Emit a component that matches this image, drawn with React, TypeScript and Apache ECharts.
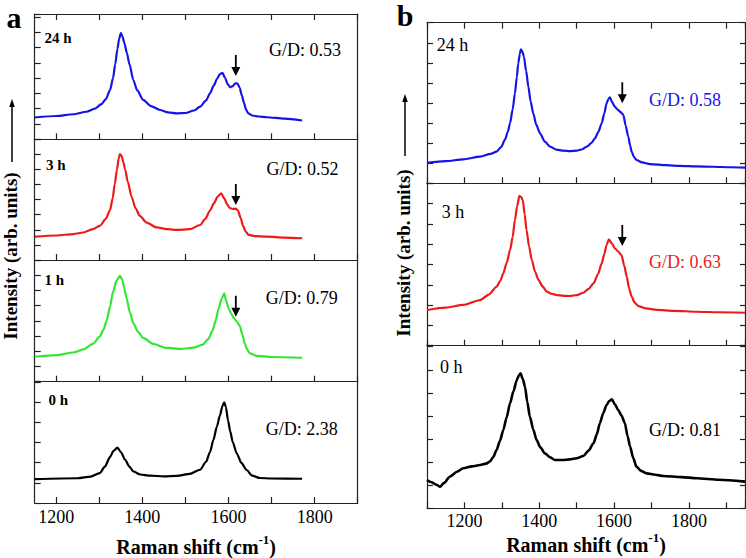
import React, { useEffect, useRef } from "react";
import * as echarts from "echarts";

// ---------- data ----------
const ticksA = [1200, 1300, 1400, 1500, 1600, 1700, 1800, 1900];
const tickLabels = [1200, 1400, 1600, 1800];

const timesA = ["24 h", "3 h", "1 h", "0 h"];
const ratiosA = ["0.53", "0.52", "0.79", "2.38"];
const timesB = ["24 h", "3 h", "0 h"];
const ratiosB = ["0.58", "0.63", "0.81"];

// panel a spectra: [Raman shift, intensity (arb.)]
const a24h = [[1150,17.4],[1200,18.6],[1240,20],[1270,22],[1290,24.5],[1305,28],[1315,32],[1325,39.3],[1332,49],[1337,60],[1342,72],[1346,80],[1350,84.8],[1354,82],[1358,77],[1364,69],[1370,60],[1379,47.3],[1388,39],[1402,31.4],[1420,26.5],[1441,23.4],[1460,21.5],[1480,20.7],[1500,21],[1520,23],[1534,26],[1548,31],[1557,36.7],[1566,43],[1573,48],[1580,52],[1586,53],[1592,49],[1598,44],[1604,41.5],[1610,42.5],[1616,44.7],[1621,44.5],[1626,41],[1631,35],[1636,29],[1641,23.5],[1646,20.7],[1655,19],[1670,18.2],[1689,17.6],[1730,16.5],[1771,15]];
const a3h = [[1150,19.3],[1200,20.3],[1240,21.5],[1263,22.8],[1285,25.5],[1302,28.5],[1315,34],[1325,41.4],[1331,51],[1336,63],[1341,75],[1345,84],[1348,87.8],[1352,86],[1356,81],[1360,75],[1366,65],[1375,52.4],[1384,43],[1394,36.5],[1410,31],[1433,27],[1460,25.5],[1480,24.9],[1510,25.5],[1534,29],[1546,34],[1557,41],[1566,47],[1575,52.5],[1583,55.3],[1590,51],[1597,46],[1603,43],[1610,42.3],[1617,42.5],[1622,41],[1628,35],[1634,28],[1640,23.5],[1646,21],[1660,19.8],[1689,19.3],[1730,18.6],[1771,18]];
const a1h = [[1150,20.5],[1200,21.8],[1240,24],[1263,26.5],[1285,31],[1301,37],[1310,43],[1317,50],[1325,62],[1332,74],[1340,83],[1348,86.9],[1353,84],[1358,77],[1363,69],[1371,57],[1379,48],[1390,41],[1402,36],[1425,31],[1456,27.8],[1490,27],[1520,28],[1540,30.5],[1553,35],[1563,42],[1570,50],[1577,60],[1584,68],[1590,72.6],[1595,66],[1600,60.3],[1606,56],[1613,52],[1620,49],[1626,46],[1632,39],[1638,31],[1644,26],[1650,23.3],[1665,21.2],[1700,20.3],[1771,19.7]];
const a0h = [[1150,19.7],[1250,20.4],[1280,21.8],[1301,24.7],[1313,30],[1325,38],[1333,43],[1342,45.7],[1350,42],[1360,35.6],[1370,30],[1379,26],[1395,23.5],[1418,22.5],[1450,22],[1480,22.3],[1510,24],[1534,27.4],[1548,34],[1557,42],[1565,52],[1573,63],[1580,72],[1586,80],[1590,83],[1594,79],[1599,68],[1604,59],[1610,50],[1619,41],[1630,33],[1642,27.2],[1655,22.5],[1673,20.6],[1700,20.2],[1771,20]];

// panel b spectra
const b24h = [[1100,12.8],[1150,13.8],[1197,14.9],[1242,16.6],[1270,18.3],[1286,19.7],[1298,22.5],[1308,27],[1316,32],[1322,37.4],[1329,46],[1335,56],[1340,66],[1344,74.7],[1348,80.5],[1351,83.4],[1355,82],[1359,78.8],[1365,70],[1371,60.1],[1377,51],[1384,43.6],[1392,36.5],[1402,31.1],[1415,26],[1429,22.8],[1446,21],[1464,20.3],[1482,20],[1500,20.3],[1515,21.2],[1527,22.8],[1539,25],[1549,28],[1558,32],[1567,37.4],[1574,43.5],[1580,49.8],[1585,52.5],[1589,53.5],[1595,50.5],[1602,47.7],[1609,46],[1616,44.6],[1621,43.5],[1625,42.5],[1631,36],[1638,29],[1643,23.5],[1647,19.7],[1653,16.5],[1660,14.5],[1675,13],[1696,12],[1740,11.3],[1776,10.8],[1820,10.5],[1865,10.3],[1910,10],[1950,9.7]];
const b3h = [[1100,22],[1150,23.5],[1197,25.1],[1242,28.1],[1265,31.5],[1286,36.3],[1296,40],[1304,44.6],[1313,51],[1322,58.9],[1329,67],[1335,77.4],[1341,86],[1347,92.2],[1352,91.5],[1356,89.7],[1361,81],[1366,71.2],[1373,61],[1380,52.8],[1389,45.5],[1398,40.5],[1409,36.5],[1420,33.3],[1433,32],[1447,31.2],[1465,30.7],[1482,30.6],[1500,31.2],[1518,32.6],[1532,35],[1545,38.4],[1557,44],[1567,50.7],[1574,56.5],[1580,62],[1586,65.5],[1594,63],[1602,60],[1611,58],[1620,55.8],[1627,49.5],[1634,42.5],[1640,35.5],[1647,30.2],[1655,26.5],[1665,24.4],[1685,23],[1714,22],[1760,21.5],[1821,20.9],[1880,20.6],[1950,20.3]];
const b0h = [[1100,17.4],[1112,16],[1125,14.5],[1135,13.3],[1145,15.5],[1161,19.4],[1180,22.5],[1197,24.6],[1220,25.8],[1242,26.6],[1258,27.5],[1268,28.7],[1277,31.5],[1286,35.9],[1295,41.5],[1304,48.2],[1313,56],[1322,64.6],[1331,72],[1340,78.9],[1345,81.5],[1350,83],[1356,79.5],[1362,74.8],[1368,65.5],[1375,56.3],[1384,48.5],[1393,42],[1403,37.5],[1415,33.8],[1428,31.5],[1442,29.7],[1462,29.7],[1482,30.1],[1500,30.8],[1518,32.2],[1532,35.5],[1545,40],[1554,45.5],[1562,52.3],[1571,58.5],[1580,63.5],[1587,66],[1594,67],[1602,64],[1611,60.5],[1620,57],[1629,52.3],[1636,44.5],[1643,37.9],[1651,31],[1660,25.6],[1672,23],[1687,21.5],[1710,20.6],[1732,19.9],[1780,19.2],[1821,18.5],[1880,17.6],[1950,16.4]];

// arrow tips marking the D' shoulder: [shift, intensity]
const arrowsA = [[1617, 50.5], [1617, 45.6], [1617, 53.4], null];
const arrowsB = [[1622, 49.8], [1622, 61.4], null];

const yIntervalsA = [12.2, 12.5, 12.5, 16.6];
const yIntervalsB = [12.5, 12.5, 14.2];

// ---------- styling / layout ----------
const FONT = "Liberation Serif";
const AXIS_COLOR = "#222";
const colorsA = ["#1414e6", "#ee1a1a", "#33e633", "#000000"];
const colorsB = ["#1414e6", "#ee1a1a", "#000000"];
const widthsB = [2.2, 2.2, 2.6];
const gridsA = [
  { top: 14, height: 125.3 },
  { top: 139.3, height: 120.7 },
  { top: 260, height: 121.7 },
  { top: 381.7, height: 121.6 },
];
const gridsB = [
  { top: 22.7, height: 160.6 },
  { top: 183.3, height: 162.4 },
  { top: 345.7, height: 162.6 },
];
const A_LEFT = 34.7, A_WIDTH = 323;
const B_LEFT = 427, B_WIDTH = 318;

const ARROW_PATH = "path://M3.6,0 L5.4,0 L5.4,12 L9,12 L4.5,21 L0,12 L3.6,12 Z";

export default function App() {
  const ref = useRef<HTMLDivElement>(null);

  useEffect(() => {
    if (!ref.current) return;
    const chart = echarts.init(ref.current, undefined, { renderer: "svg" });

    const grids: any[] = [];
    const xAxes: any[] = [];
    const yAxes: any[] = [];
    const series: any[] = [];
    const graphics: any[] = [];

    const tick = (len: number, extra: any = {}) => ({ show: true, inside: true, length: len, lineStyle: { color: AXIS_COLOR, width: 1.2 }, ...extra });
    const axLine = { show: true, onZero: false, lineStyle: { color: AXIS_COLOR, width: 1.2 } };

    const addPanel = (
      panelGrids: any[], left: number, width: number, xmin: number, xmax: number,
      xTickCfg: any, spectra: number[][][], colors: string[], intervals: number[],
      arrows: (number[] | null)[], rightTicks: boolean, labelMargin: number, nameGap: number, lws: number[]
    ) => {
      panelGrids.forEach((g, i) => {
        const gi = grids.length;
        grids.push({ left, width, top: g.top, height: g.height, show: false });
        const last = i === panelGrids.length - 1;
        const xi = xAxes.length;
        xAxes.push({
          type: "value", gridIndex: gi, min: xmin, max: xmax, position: "bottom",
          ...xTickCfg.base,
          axisLine: axLine, splitLine: { show: false },
          axisTick: tick(6, xTickCfg.tick),
          axisLabel: {
            show: last, customValues: tickLabels, color: "#000", fontFamily: FONT, fontSize: 18, margin: labelMargin,
            formatter: (v: number) => String(v),
          },
          name: last ? "{t|Raman shift (cm}{s|-1}{t|)}" : "",
          nameLocation: "middle", nameGap,
          nameTextStyle: {
            fontFamily: FONT, fontWeight: "bold", fontSize: 20, color: "#000",
            rich: {
              t: { fontFamily: FONT, fontWeight: "bold", fontSize: 20, color: "#000", lineHeight: 24, verticalAlign: "bottom" },
              s: { fontFamily: FONT, fontWeight: "bold", fontSize: 13, color: "#000", lineHeight: 24, verticalAlign: "top" },
            },
          },
        });
        xAxes.push({
          type: "value", gridIndex: gi, min: xmin, max: xmax, position: "top",
          ...xTickCfg.base,
          axisLine: axLine, splitLine: { show: false },
          axisTick: i === 0 ? tick(6, xTickCfg.tick) : { show: false },
          axisLabel: { show: false },
        });
        const yi = yAxes.length;
        yAxes.push({
          type: "value", gridIndex: gi, min: 0, max: 100, interval: intervals[i], position: "left",
          axisLine: axLine, splitLine: { show: false },
          axisTick: tick(6), axisLabel: { show: false },
        });
        yAxes.push({
          type: "value", gridIndex: gi, min: 0, max: 100, interval: intervals[i], position: "right",
          axisLine: axLine, splitLine: { show: false },
          axisTick: rightTicks ? tick(5) : { show: false }, axisLabel: { show: false },
        });
        const arrow = arrows[i];
        series.push({
          type: "line", xAxisIndex: xi, yAxisIndex: yi, data: spectra[i],
          showSymbol: false, symbol: "none", smooth: 0.25, smoothMonotone: "x",
          lineStyle: { color: colors[i], width: lws[i] }, itemStyle: { color: colors[i] },
          silent: true, z: 3,
          markPoint: arrow
            ? {
                silent: true,
                symbol: ARROW_PATH, symbolSize: [9, 21], symbolOffset: [0, "-50%"],
                itemStyle: { color: "#000" }, label: { show: false },
                data: [{ coord: arrow }],
              }
            : undefined,
        });
      });
    };

    addPanel(gridsA, A_LEFT, A_WIDTH, 1150, 1900, { base: {}, tick: { customValues: ticksA } }, [a24h, a3h, a1h, a0h], colorsA, yIntervalsA, arrowsA, false, 5, 30, [2.2, 2.2, 2.2, 2.2]);
    addPanel(gridsB, B_LEFT, B_WIDTH, 1100, 1950, { base: { interval: 100 }, tick: {} }, [b24h, b3h, b0h], colorsB, yIntervalsB, arrowsB, true, 4, 21, widthsB);

    // panel letters
    graphics.push({ type: "text", x: 14, y: 17, style: { text: "a", font: `bold 30px ${FONT}`, fill: "#000", align: "center", verticalAlign: "middle" } });
    graphics.push({ type: "text", x: 405, y: 15, style: { text: "b", font: `bold 30px ${FONT}`, fill: "#000", align: "center", verticalAlign: "middle" } });

    // in-panel labels, panel a
    const timeOffA = [23.7, 25.7, 20, 18.3];
    const timeXA = [44.5, 46, 44.5, 48.5];
    const ratioOffA = [36, 29.7, 37.7, 47.6];
    const ratioXA = [269, 266.5, 265.7, 265.7];
    gridsA.forEach((g, i) => {
      graphics.push({ type: "text", x: timeXA[i], y: g.top + timeOffA[i], style: { text: timesA[i], font: `bold 15px ${FONT}`, fill: "#000", align: "left", verticalAlign: "middle" } });
      graphics.push({ type: "text", x: ratioXA[i], y: g.top + ratioOffA[i], style: { text: "G/D: " + ratiosA[i], font: `18px ${FONT}`, fill: "#000", align: "left", verticalAlign: "middle" } });
    });
    // in-panel labels, panel b
    const timeOffB = [22.3, 28.4, 21.6];
    const timeXB = [436.7, 441.7, 440];
    const ratioOffB = [77.3, 78.4, 84.3];
    const ratioColorsB = ["#1414e6", "#ee1a1a", "#000"];
    gridsB.forEach((g, i) => {
      graphics.push({ type: "text", x: timeXB[i], y: g.top + timeOffB[i], style: { text: timesB[i], font: `18px ${FONT}`, fill: "#000", align: "left", verticalAlign: "middle" } });
      graphics.push({ type: "text", x: 649, y: g.top + ratioOffB[i], style: { text: "G/D: " + ratiosB[i], font: `18px ${FONT}`, fill: ratioColorsB[i], align: "left", verticalAlign: "middle" } });
    });

    // y-axis titles with upward arrows
    const yTitle = (x: number, cy: number, lineTop: number, lineBottom: number) => {
      graphics.push({ type: "text", x, y: cy, rotation: Math.PI / 2, style: { text: "Intensity (arb. units)", font: `bold 19px ${FONT}`, fill: "#000", align: "center", verticalAlign: "middle" } });
      graphics.push({ type: "line", shape: { x1: x + 2, y1: lineBottom, x2: x + 2, y2: lineTop + 6 }, style: { stroke: "#000", lineWidth: 1.5 } });
      graphics.push({ type: "polygon", shape: { points: [[x + 2, lineTop], [x - 0.8, lineTop + 8], [x + 4.8, lineTop + 8]] }, style: { fill: "#000" } });
    };
    yTitle(10, 256, 99, 162);
    yTitle(403, 253, 94, 156);

    chart.setOption({
      animation: false,
      backgroundColor: "#fff",
      grid: grids,
      xAxis: xAxes,
      yAxis: yAxes,
      series,
      graphic: graphics,
    });

    return () => chart.dispose();
  }, []);

  return <div ref={ref} style={{ position: "fixed", left: 0, top: 0, width: 746, height: 558 }} />;
}
